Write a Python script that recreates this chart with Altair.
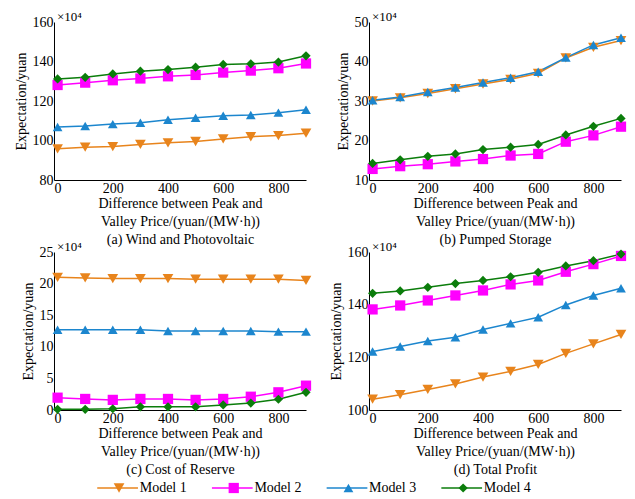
import altair as alt
import pandas as pd

x_vals = [0, 100, 200, 300, 400, 500, 600, 700, 800, 900]
models = ["Model 1", "Model 2", "Model 3", "Model 4"]
colors = ["#E8841C", "#FF00FF", "#1C86CE", "#0B7D0B"]
shapes = ["triangle-down", "square", "triangle-up", "diamond"]
sizes = [115, 85, 115, 120]

# (a) Wind and Photovoltaic (x10^4 yuan)
a_m1 = [95.8, 96.6, 96.9, 98.0, 98.8, 99.5, 100.8, 101.9, 102.5, 103.7]
a_m2 = [128.1, 129.3, 130.5, 131.4, 132.5, 133.2, 134.4, 135.4, 136.6, 139.0]
a_m3 = [106.8, 107.3, 108.3, 109.0, 110.5, 111.5, 112.5, 112.9, 114.1, 115.6]
a_m4 = [131.2, 132.0, 133.7, 135.1, 135.9, 137.1, 138.5, 138.8, 139.7, 142.9]
# (b) Pumped Storage
b_m1 = [30.0, 30.8, 31.9, 33.1, 34.3, 35.5, 37.0, 40.9, 43.6, 45.3]
b_m2 = [12.8, 13.5, 14.0, 14.7, 15.3, 16.2, 16.6, 19.7, 21.3, 23.5]
b_m3 = [30.2, 31.0, 32.3, 33.4, 34.7, 35.9, 37.4, 41.0, 44.2, 46.0]
b_m4 = [14.2, 15.1, 16.0, 16.6, 17.7, 18.3, 19.0, 21.4, 23.6, 25.6]
# (c) Cost of Reserve
c_m1 = [21.0, 20.9, 20.8, 20.8, 20.8, 20.7, 20.7, 20.7, 20.7, 20.5]
c_m2 = [1.95, 1.75, 1.6, 1.75, 1.75, 1.6, 1.75, 2.1, 2.8, 3.85]
c_m3 = [12.7, 12.7, 12.7, 12.7, 12.5, 12.5, 12.5, 12.5, 12.4, 12.4]
c_m4 = [0.1, 0.1, 0.2, 0.5, 0.5, 0.5, 0.8, 1.1, 1.7, 2.8]
# (d) Total Profit
d_m1 = [104.1, 105.8, 107.8, 109.9, 112.5, 114.7, 117.3, 121.5, 125.1, 128.7]
d_m2 = [138.2, 139.7, 141.6, 143.5, 145.4, 147.7, 149.2, 152.5, 155.4, 158.5]
d_m3 = [122.2, 124.1, 126.2, 127.6, 130.6, 132.9, 135.2, 139.9, 143.5, 146.2]
d_m4 = [144.3, 145.2, 146.6, 148.0, 149.2, 150.6, 152.3, 154.7, 156.7, 159.2]

x_title = ["Difference between Peak and", "Valley Price/(yuan/(MW·h))"]
FONT = "Liberation Serif"


def panel(series, domain, ticks, caption):
    rows = []
    for m, vals in zip(models, series):
        for xv, v in zip(x_vals, vals):
            rows.append({"x": xv, "v": v, "model": m})
    df = pd.DataFrame(rows)
    base = alt.Chart(df).encode(
        x=alt.X("x:Q",
                scale=alt.Scale(domain=[-13, 900], nice=False, zero=False),
                axis=alt.Axis(values=[0, 200, 400, 600, 800],
                              title=x_title + [caption])),
        y=alt.Y("v:Q",
                scale=alt.Scale(domain=domain, nice=False, zero=False),
                axis=alt.Axis(values=ticks, title="Expectation/yuan")),
        color=alt.Color("model:N", scale=alt.Scale(domain=models, range=colors),
                        legend=None),
    )
    line = base.mark_line(strokeWidth=1.5)
    pts = base.mark_point(filled=True, opacity=1).encode(
        shape=alt.Shape("model:N", scale=alt.Scale(domain=models, range=shapes),
                        legend=None),
        size=alt.Size("model:O", scale=alt.Scale(domain=models, range=sizes),
                      legend=None),
    )
    return alt.layer(line, pts).properties(
        width=252, height=158,
        title=alt.TitleParams("×10⁴", anchor="start", frame="group", dx=3,
                              offset=-9, fontSize=13, font=FONT,
                              fontWeight="normal", color="black"),
    )


pa = panel([a_m1, a_m2, a_m3, a_m4], [80, 160], [80, 100, 120, 140, 160],
           "(a) Wind and Photovoltaic")
pb = panel([b_m1, b_m2, b_m3, b_m4], [10, 50], [10, 20, 30, 40, 50],
           "(b) Pumped Storage")
pc = panel([c_m1, c_m2, c_m3, c_m4], [0, 25], [0, 5, 10, 15, 20, 25],
           "(c) Cost of Reserve")
pd_ = panel([d_m1, d_m2, d_m3, d_m4], [100, 160], [100, 120, 140, 160],
            "(d) Total Profit")

# legend row built from the model list
leg_idx = [0, 1, 2, 3]
leg_df = pd.DataFrame({
    "model": models,
    "idx": leg_idx,
    "x0": [i - 0.19 for i in leg_idx],
    "x1": [i + 0.165 for i in leg_idx],
    "tx": [i + 0.18 for i in leg_idx],
    "row": ["legend"] * 4,
})
lx = alt.Scale(domain=[-0.567, 1.630], nice=False, zero=False)
lbase = alt.Chart(leg_df)
l_rule = lbase.mark_rule(strokeWidth=1.5).encode(
    x=alt.X("x0:Q", scale=lx, axis=None), x2="x1:Q",
    y=alt.Y("row:N", axis=None),
    color=alt.Color("model:N", scale=alt.Scale(domain=models, range=colors), legend=None),
)
l_pts = lbase.mark_point(filled=True, opacity=1).encode(
    x=alt.X("idx:Q", scale=lx, axis=None),
    y=alt.Y("row:N", axis=None),
    color=alt.Color("model:N", scale=alt.Scale(domain=models, range=colors), legend=None),
    shape=alt.Shape("model:N", scale=alt.Scale(domain=models, range=shapes), legend=None),
    size=alt.Size("model:O", scale=alt.Scale(domain=models, range=sizes), legend=None),
)
l_txt = lbase.mark_text(align="left", baseline="middle", font=FONT, fontSize=14,
                        color="black").encode(
    x=alt.X("tx:Q", scale=lx, axis=None),
    y=alt.Y("row:N", axis=None),
    text="model:N",
)
legend = alt.layer(l_rule, l_pts, l_txt).properties(width=252, height=12)

chart = alt.concat(
    pa, pb, pc, pd_, legend,
    columns=2,
    spacing={"row": 72, "column": 63},
    bounds="flush",
).properties(
    padding={"left": 6, "top": 3, "right": 0, "bottom": 0}, background="white"
).configure_view(
    stroke=None
).configure_axis(
    grid=False, ticks=False, domainColor="black", domainWidth=1,
    labelFont=FONT, labelFontSize=14, labelColor="black", labelPadding=1,
    titleFont=FONT, titleFontSize=14, titleColor="black", titleFontWeight="normal",
    titlePadding=1, titleLineHeight=18,
).configure_axisY(
    labelPadding=1, titlePadding=4
)

chart.save("out.html", embed_options={"renderer": "svg", "actions": False})
